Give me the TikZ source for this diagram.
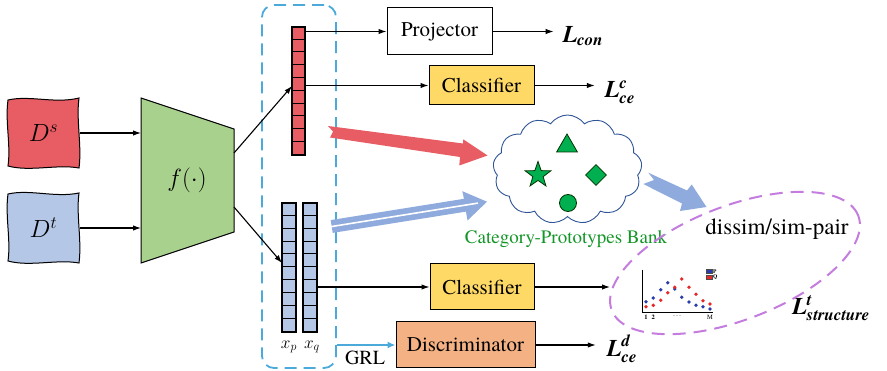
\documentclass[tikz,border=0pt]{standalone}
\usepackage{amsmath}
\usepackage{fontspec}
\setmainfont{texgyretermes}[Extension=.otf, UprightFont=*-regular, BoldFont=*-bold, ItalicFont=*-italic, BoldItalicFont=*-bolditalic]
\newfontfamily\timesfont{texgyretermes}[Extension=.otf, UprightFont=*-regular, BoldFont=*-bold, ItalicFont=*-italic, BoldItalicFont=*-bolditalic]
\usetikzlibrary{shapes.geometric,shapes.symbols,arrows.meta,calc}
\definecolor{cred}{RGB}{232,92,100}
\definecolor{cblue}{RGB}{180,199,231}
\definecolor{cgreen}{RGB}{169,209,142}
\definecolor{cyellow}{RGB}{255,217,102}
\definecolor{corange}{RGB}{244,177,131}
\definecolor{cdash}{RGB}{75,170,218}
\definecolor{cpurple}{RGB}{196,125,222}
\definecolor{carrow}{RGB}{143,170,220}
\definecolor{cshape}{RGB}{0,176,80}
\definecolor{ctext}{RGB}{20,150,40}
\definecolor{ccloud}{RGB}{47,85,151}
\definecolor{pblue}{RGB}{40,60,170}
\definecolor{qred}{RGB}{230,40,40}
\newcommand{\lbi}[1]{\text{\timesfont\bfseries\itshape #1}}
\tikzset{
  box/.style={draw, line width=1pt, inner sep=0pt, font=\timesfont\fontsize{21}{25}\selectfont},
  arr/.style={line width=1.1pt, -{Latex[length=8pt,width=5.5pt]}},
  loss/.style={inner sep=0pt, font=\timesfont\fontsize{24}{28}\selectfont},
  barbox/.style={draw, line width=1.2pt, inner sep=0pt, minimum width=13pt},
  wavy/.style={draw, line width=1pt},
  proto/.style={draw=black!80!green, fill=cshape, line width=0.8pt, inner sep=0pt},
}
\begin{document}
\begin{tikzpicture}[x=1pt,y=-1pt]
\useasboundingbox (0,0) rectangle (887,371);

% input domains
\path[wavy, fill=cred] (8,100) .. controls (30,95) and (55,104) .. (79,98)
  .. controls (76,120) and (82,146) .. (79,168)
  .. controls (57,164) and (30,172) .. (8,166)
  .. controls (11,145) and (5,122) .. (8,100) -- cycle;
\path[wavy, fill=cblue] (8,194) .. controls (30,189) and (55,198) .. (79,193)
  .. controls (76,215) and (82,240) .. (79,263)
  .. controls (57,259) and (30,267) .. (8,261)
  .. controls (11,240) and (5,216) .. (8,194) -- cycle;
\node[minimum width=72pt, minimum height=68pt, inner sep=0pt, font=\fontsize{24}{28}\selectfont] (ds) at (43.5,133) {$D^s$};
\node[minimum width=72pt, minimum height=68pt, inner sep=0pt, font=\fontsize{24}{28}\selectfont] (dt) at (43.5,228) {$D^t$};

% feature extractor
\path[draw, line width=1pt, fill=cgreen] (141,98) -- (234,129) -- (234,232) -- (141,263) -- cycle;
\node[font=\fontsize{23}{27}\selectfont] (f) at (187,180) {$f(\cdot)$};
\coordinate (fleft) at (141,180);
\coordinate (fo1) at (234,153);
\coordinate (fo2) at (234,207);
\draw[arr] (ds.east) -- (ds.east -| fleft);
\draw[arr] (dt.east) -- (dt.east -| fleft);

% dashed feature box
\node[draw=cdash, line width=1.8pt, dash pattern=on 12pt off 7pt, rounded corners=12pt,
  minimum width=74pt, minimum height=363pt, inner sep=0pt] (dbox) at (299,186.5) {};

% feature bars
\node[barbox, fill=cred, minimum height=128pt] (rbar) at (298.5,91) {};
\foreach \i in {1,...,9} \draw[line width=1pt] ($(rbar.north west)+(0,\i*12.8)$) -- ++(13,0);
\node[barbox, fill=cblue, minimum width=14pt, minimum height=129pt] (xp) at (289,267.5) {};
\node[barbox, fill=cblue, minimum width=14pt, minimum height=129pt] (xq) at (310,267.5) {};
\foreach \i in {1,...,9} {
  \draw[line width=1pt] ($(xp.north west)+(0,\i*12.9)$) -- ++(14,0);
  \draw[line width=1pt] ($(xq.north west)+(0,\i*12.9)$) -- ++(14,0);
}
\node[font=\fontsize{17}{19}\selectfont] (lxp) at (289,347) {$x_p$};
\node[font=\fontsize{17}{19}\selectfont] (lxq) at (312,347) {$x_q$};
\coordinate (rin) at (292,86);
\coordinate (bin) at (282,263);
\draw[arr] (fo1) -- (rin);
\draw[arr] (fo2) -- (bin);

% heads
\node[box, fill=white, minimum width=105pt, minimum height=47pt] (proj) at (439.5,31.5) {Projector};
\node[box, fill=cyellow, minimum width=105pt, minimum height=39pt] (cls1) at (481.5,85.5) {Classifier};
\node[box, fill=cyellow, minimum width=104pt, minimum height=46pt] (cls2) at (482,287) {Classifier};
\node[box, fill=corange, minimum width=139pt, minimum height=46pt] (disc) at (465.5,345) {Discriminator};

\node[loss] (lcon) at (583,36) {$\lbi{L}_{\lbi{con}}$};
\node[loss] (lcec) at (620,92) {$\lbi{L}^{\lbi{c}}_{\lbi{ce}}$};
\node[loss] (lced) at (622,349) {$\lbi{L}^{\lbi{d}}_{\lbi{ce}}$};
\node[loss] (lts) at (831,308) {$\lbi{L}^{\lbi{t}}_{\lbi{structure}}$};

\draw[arr] (rbar.east |- proj.west) -- (proj.west);
\draw[arr] (proj.east) -- ([xshift=-9pt]proj.east -| lcon.west);
\draw[arr] (rbar.east |- cls1.west) -- (cls1.west);
\draw[arr] (cls1.east) -- ([xshift=-10pt]cls1.east -| lcec.west);
\draw[arr] (xq.east |- cls2.west) -- (cls2.west);
\coordinate (cls2end) at (610,287);
\draw[arr] (cls2.east) -- (cls2end);
\draw[arr] (disc.east) -- ([xshift=-11pt]disc.east -| lced.west);
\draw[line width=2pt, cdash, -{Latex[length=8pt,width=7pt]}] (dbox.east |- disc.west) -- (disc.west);
\node[font=\timesfont\fontsize{20}{24}\selectfont] (grl) at (365,358) {GRL};

% prototype bank
\node[cloud, cloud puffs=13, cloud puff arc=110, aspect=1.4, draw=ccloud, line width=0.9pt,
  minimum width=149pt, minimum height=109pt, inner sep=0pt] (bank) at (567.5,169.5) {};
\node[proto, regular polygon, regular polygon sides=3, minimum size=24pt] (tri) at (567,146) {};
\node[proto, star, star points=5, star point ratio=2.5, minimum size=27pt] (star) at (538,175) {};
\node[proto, diamond, minimum width=21pt, minimum height=21pt] (dia) at (596,175) {};
\node[proto, circle, minimum size=17pt] (circ) at (568,203) {};
\node[text=ctext, font=\timesfont\fontsize{19}{22}\selectfont] (banklbl) at (566,239) {Category-Prototypes Bank};

% big arrows
\fill[cred] (328,126) -- (463,143.5) -- (463.3,139.3) -- (487.5,155.5) -- (459.3,165.5)
  -- (460,157) -- (330,137.5) -- (333,131.5) -- cycle;
\fill[carrow] (330.7,220.1) -- (464,198.8) -- (462.3,191.2) -- (487,201.7) -- (467.5,220.5)
  -- (466,211.6) -- (332.7,232.9) -- cycle;
\draw[white, line width=1.6pt] (330,226.8) -- (478,203.1);
\fill[carrow] (648.3,172.7) -- (687,190.5) -- (691.7,184.5) -- (706.5,207) -- (680,211)
  -- (682,203.5) -- (643.3,184) -- (654,180) -- cycle;

% structure ellipse
\node[draw=cpurple, line width=2pt, dash pattern=on 13pt off 8pt, ellipse, rotate=21,
  minimum width=264pt, minimum height=114pt, inner sep=0pt] (ell) at (735,263) {};
\node[font=\timesfont\fontsize{23}{27}\selectfont] (pair) at (777,229) {dissim/sim-pair};

% small chart
\draw[line width=0.7pt] (642,270) -- (642,312) -- (713,312);
\foreach \x/\y in {646/301.7,653.3/298,660.7/289.7,667.7/282.7,674.7/289,681.7/297.3,689/302,696/305.3,703/306.7,710/309}
  \fill[pblue] (\x,\y) circle (1.9pt);
\foreach \x/\y in {646/306.7,653.3/305.3,660.7/300.3,667.7/292.7,674.7/287.3,681.7/279,689/287.3,696/294.3,703/300.7,710/304}
  \fill[qred] (\x,\y) circle (1.9pt);
\filldraw[fill=pblue, draw=black!70, line width=0.3pt] (706,269.5) rectangle (712,273.5);
\filldraw[fill=qred, draw=black!70, line width=0.3pt] (706,275) rectangle (712,279);
\node[font=\timesfont\fontsize{5.5}{6}\selectfont\bfseries, anchor=west, inner sep=0pt] (lp) at (713,271.5) {P};
\node[font=\timesfont\fontsize{5.5}{6}\selectfont\bfseries, anchor=west, inner sep=0pt] (lq) at (713,277) {Q};
\node[font=\timesfont\fontsize{6.5}{7}\selectfont\bfseries, inner sep=0pt] (t1) at (646,317.5) {1};
\node[font=\timesfont\fontsize{6.5}{7}\selectfont\bfseries, inner sep=0pt] (t2) at (653.3,317.5) {2};
\node[font=\timesfont\fontsize{6}{7}\selectfont, inner sep=0pt] (tdots) at (677,316) {......};
\node[font=\timesfont\fontsize{6.5}{7}\selectfont, inner sep=0pt] (tm) at (710,317.5) {M};
\end{tikzpicture}
\end{document}
